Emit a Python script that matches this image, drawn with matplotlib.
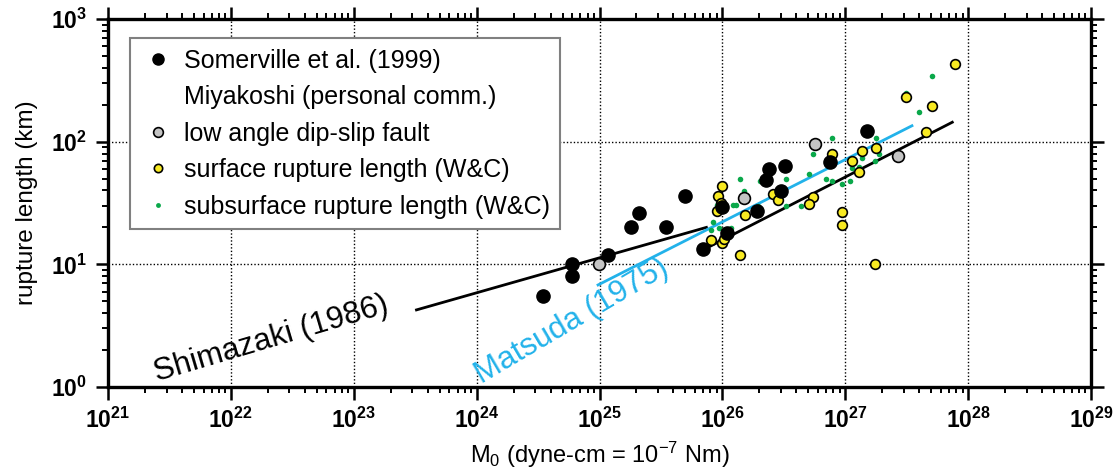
import numpy as np
import matplotlib
matplotlib.use('Agg')
import matplotlib.pyplot as plt
from matplotlib.lines import Line2D
from matplotlib.ticker import FixedLocator, LogLocator, FuncFormatter, NullFormatter

plt.rcParams['font.family'] = ['Liberation Sans', 'DejaVu Sans']
plt.rcParams['mathtext.fontset'] = 'custom'
plt.rcParams['mathtext.rm'] = 'Liberation Sans'
plt.rcParams['mathtext.it'] = 'Liberation Sans:italic'
plt.rcParams['mathtext.bf'] = 'Liberation Sans:bold'

# Somerville et al. (1999)
somer_m0 = [3.47e24, 5.97e24, 5.97e24, 1.17e25, 1.80e25, 2.08e25, 3.50e25, 4.97e25, 6.95e25,
            9.93e25, 1.09e26, 1.93e26, 2.28e26, 2.38e26, 3.02e26, 3.26e26, 7.46e26, 1.51e27]
somer_len = [5.5, 10.1, 8.0, 12.0, 20.0, 26.1, 20.0, 36.3, 13.3,
             29.3, 18.0, 27.0, 48.3, 60.4, 39.5, 63.5, 68.4, 122.8]

# low angle dip-slip fault (Miyakoshi)
lowang_m0 = [9.9e24, 1.49e26, 5.71e26, 2.69e27]
lowang_len = [10.0, 34.7, 95.1, 77.0]

# surface rupture length (W&C)
surf_m0 = [7.82e27, 3.10e27, 5.07e27, 4.57e27, 7.74e26, 1.36e27, 1.79e27, 1.14e27, 1.29e27,
           5.46e26, 5.04e26, 9.46e26, 9.46e26, 1.75e27, 2.60e26, 2.81e26, 1.52e26, 1.39e26,
           1.0e26, 9.21e25, 9.04e25, 8.13e25, 1.0e26, 1.03e26, 9.69e25]
surf_len = [426, 232, 197, 119, 80, 84, 88.2, 70.1, 56.3,
            35.4, 31.2, 26.5, 20.9, 10.1, 37.7, 33.7, 25.1, 12.0,
            43.7, 36.0, 27.0, 15.9, 15.0, 16.2, 31.4]

# subsurface rupture length (W&C)
sub_m0 = [5.07e27, 3.95e27, 3.10e27, 7.74e26, 5.46e26, 1.79e27, 1.88e27, 1.37e27, 1.14e27,
          1.29e27, 1.76e27, 1.10e27, 9.46e26, 7.85e26, 6.92e26, 5.04e26, 4.36e26, 3.27e26,
          3.27e26, 1.40e26, 1.49e26, 2.04e26, 1.21e26, 1.30e26, 8.39e25, 8.13e25, 9.38e25,
          1.18e26, 1.95e26, 9.10e25]
sub_len = [345, 176, 251, 108, 79.6, 108, 79.6, 73.2, 61.2,
           62.7, 69.3, 47.4, 44.8, 47.4, 49.9, 54.7, 29.9, 29.9,
           49.9, 49.9, 39.5, 47.6, 30.3, 30.3, 22.2, 19.0, 19.9,
           19.9, 29.8, 30.3]

# Shimazaki (1986), two segments
shim1_m0 = [3.24e23, 7.41e25]
shim1_len = [4.25, 20.0]
shim2_m0 = [6.95e25, 7.43e27]
shim2_len = [13.1, 144.0]

# Matsuda (1975)
mats_m0 = [9.73e24, 3.49e27]
mats_len = [6.79, 134.8]

# decade ticks
x_ticks = [1e21, 1e22, 1e23, 1e24, 1e25, 1e26, 1e27, 1e28, 1e29]
y_ticks = [1, 10, 100, 1000]

cyan = '#22b2ea'
yellow = '#f8ea22'
green = '#0aa84a'
gray = '#c4c4c4'

fig = plt.figure(figsize=(11.19, 4.75), dpi=100)
ax = fig.add_axes([0.0965, 0.1853, 0.8785, 0.7747])

ax.plot(shim1_m0, shim1_len, color='black', lw=2, zorder=3)
ax.plot(shim2_m0, shim2_len, color='black', lw=2, zorder=3)
ax.plot(mats_m0, mats_len, color=cyan, lw=2, zorder=3)

ax.plot(sub_m0, sub_len, 'o', ms=4, color=green, mec='none', zorder=4)
ax.plot(surf_m0, surf_len, 'o', ms=7, mfc=yellow, mec='black', mew=1.2, zorder=5)
ax.plot(lowang_m0, lowang_len, 'o', ms=8.5, mfc=gray, mec='black', mew=1.2, zorder=6)
ax.plot(somer_m0, somer_len, 'o', ms=9.5, color='black', zorder=7)

ax.set_xscale('log')
ax.set_yscale('log')
ax.set_xlim(1e21, 1e29)
ax.set_ylim(1, 1000)

ax.xaxis.set_major_locator(FixedLocator(x_ticks))
ax.yaxis.set_major_locator(FixedLocator(y_ticks))
ax.xaxis.set_minor_locator(LogLocator(base=10, subs=np.arange(2, 10), numticks=100))
ax.yaxis.set_minor_locator(LogLocator(base=10, subs=np.arange(2, 10), numticks=100))
fmt = FuncFormatter(lambda v, p: r'$\mathbf{10^{%d}}$' % int(round(np.log10(v))))
ax.xaxis.set_major_formatter(fmt)
ax.yaxis.set_major_formatter(fmt)
ax.xaxis.set_minor_formatter(NullFormatter())
ax.yaxis.set_minor_formatter(NullFormatter())

ax.tick_params(which='both', direction='out', top=True, right=True, labelsize=16.5)
ax.tick_params(which='major', length=9, width=1.8, pad=6)
ax.tick_params(which='minor', length=4.5, width=1.4)
for s in ax.spines.values():
    s.set_linewidth(2.4)

ax.grid(True, which='major', color='black', linestyle=(0, (1, 1.5)), linewidth=1.0)
ax.set_axisbelow(True)

ax.set_xlabel(r'M$_0$ (dyne-cm = 10$^{-7}$ Nm)', fontsize=17, labelpad=5)
ax.set_ylabel('rupture length (km)', fontsize=17.5, labelpad=9)

ax.text(2.15e22, 2.45, 'Shimazaki (1986)', fontsize=22.5, rotation=16.5,
        ha='center', va='center', rotation_mode='anchor')
ax.text(6.0e24, 3.4, 'Matsuda (1975)', fontsize=22.5, rotation=30.5, color=cyan,
        ha='center', va='center', rotation_mode='anchor')

handles = [
    Line2D([], [], ls='none', marker='o', ms=8, color='black'),
    Line2D([], [], ls='none', marker=''),
    Line2D([], [], ls='none', marker='o', ms=7, mfc=gray, mec='black', mew=1.2),
    Line2D([], [], ls='none', marker='o', ms=6, mfc=yellow, mec='black', mew=1.2),
    Line2D([], [], ls='none', marker='o', ms=3.5, color=green, mec='none'),
]
labels = ['Somerville et al. (1999)', 'Miyakoshi (personal comm.)', 'low angle dip-slip fault',
          'surface rupture length (W&C)', 'subsurface rupture length (W&C)']
leg = ax.legend(handles, labels, loc='upper left', bbox_to_anchor=(0.022, 0.948),
                borderaxespad=0, fontsize=18, frameon=True, fancybox=False,
                handlelength=1.4, handletextpad=0.35, borderpad=0.42, labelspacing=0.5)
leg.get_frame().set_edgecolor('#808080')
leg.get_frame().set_linewidth(1.5)
leg.get_frame().set_alpha(1)
leg.set_zorder(10)

fig.savefig('out.png', dpi=100)
